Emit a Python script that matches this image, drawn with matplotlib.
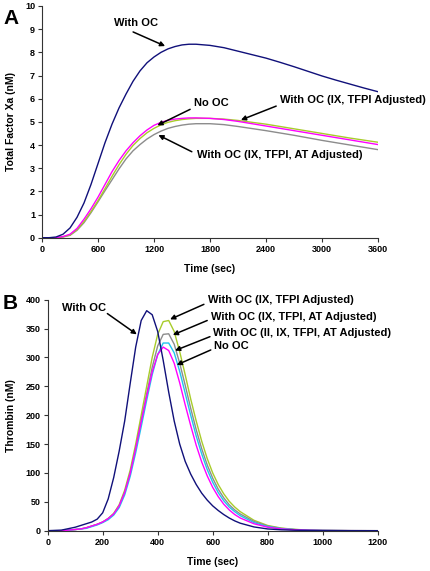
import matplotlib
matplotlib.use('Agg')
import matplotlib.pyplot as plt

plt.rcParams['font.family'] = ['Liberation Sans', 'DejaVu Sans']
plt.rcParams['font.weight'] = 'bold'

# ---- panel A : total factor Xa (nM) vs time (sec)
t_a = [0, 75, 150, 225, 300, 375, 450, 525, 600, 675, 750, 825, 900, 975, 1050, 1125,
       1200, 1275, 1350, 1425, 1500, 1575, 1650, 1800, 1950, 2100, 2250, 2400, 2550,
       2700, 2850, 3000, 3150, 3300, 3450, 3600]
xa_oc = [0, 0, 0.03, 0.15, 0.42, 0.88, 1.5, 2.3, 3.2, 4.1, 4.9, 5.6, 6.2, 6.75, 7.2, 7.55,
         7.8, 8.0, 8.15, 8.25, 8.32, 8.35, 8.35, 8.3, 8.2, 8.05, 7.9, 7.75, 7.57,
         7.38, 7.18, 6.98, 6.8, 6.63, 6.46, 6.3]
xa_no = [0, 0, 0, 0.05, 0.15, 0.4, 0.8, 1.25, 1.75, 2.3, 2.85, 3.33, 3.75, 4.1, 4.4, 4.65,
         4.85, 4.98, 5.07, 5.12, 5.15, 5.17, 5.17, 5.15, 5.1, 5.02, 4.92, 4.82, 4.72,
         4.62, 4.52, 4.42, 4.32, 4.22, 4.12, 4.02]
xa_ix_tfpi = [0, 0, 0, 0.04, 0.12, 0.35, 0.7, 1.13, 1.6, 2.12, 2.65, 3.15, 3.6, 3.98, 4.28,
              4.53, 4.72, 4.87, 4.98, 5.05, 5.1, 5.13, 5.15, 5.15, 5.12, 5.06, 4.98, 4.9,
              4.8, 4.7, 4.6, 4.5, 4.4, 4.3, 4.21, 4.12]
xa_ix_tfpi_at = [0, 0, 0, 0.03, 0.1, 0.32, 0.65, 1.08, 1.55, 2.03, 2.5, 2.97, 3.4, 3.75,
                 4.02, 4.26, 4.45, 4.6, 4.72, 4.8, 4.86, 4.9, 4.92, 4.92, 4.88, 4.8, 4.71,
                 4.62, 4.52, 4.42, 4.31, 4.2, 4.1, 4.0, 3.9, 3.8]

# ---- panel B : thrombin (nM) vs time (sec)
t_b = [0, 50, 100, 120, 140, 160, 180, 200, 220, 240, 260, 280, 300, 320, 340, 360, 380,
       400, 420, 440, 460, 480, 500, 520, 540, 560, 580, 600, 620, 640, 660, 680, 700,
       750, 800, 850, 900, 950, 1000, 1100, 1200]
th_oc = [0, 1, 6, 9, 12, 15, 20, 31, 55, 92, 138, 190, 255, 318, 364, 381, 374,
         345, 295, 240, 190, 150, 120, 98, 80, 65, 53, 43, 35, 28, 22, 17, 13,
         6.5, 3, 1.5, 0.8, 0.4, 0.2, 0, 0]
th_ix_tfpi = [0, 0, 2, 3, 5, 8, 11, 15, 21, 30, 45, 70, 105, 150, 200, 250, 300,
              340, 362, 364, 345, 310, 270, 228, 190, 155, 125, 100, 80, 64, 51, 41, 33,
              18, 9, 4.5, 2.2, 1, 0.5, 0.1, 0]
th_ix_tfpi_at = [0, 0, 2, 3, 5, 8, 11, 15, 21, 29, 43, 67, 100, 143, 190, 237, 283,
                 320, 340, 341, 323, 290, 252, 212, 175, 142, 114, 91, 72, 57, 45, 36, 29,
                 16, 8, 4, 2, 1, 0.5, 0.1, 0]
th_ii_ix_tfpi_at = [0, 0, 2, 3, 4, 7, 10, 14, 19, 27, 40, 62, 94, 135, 180, 226, 270,
                    305, 325, 325, 308, 276, 238, 200, 164, 133, 106, 84, 66, 52, 41, 33, 26,
                    14, 7, 3.5, 1.8, 0.8, 0.4, 0.1, 0]
th_no = [0, 0, 2, 3, 5, 8, 11, 15, 21, 29, 43, 66, 99, 142, 188, 233, 275,
         305, 318, 312, 290, 256, 218, 182, 148, 119, 95, 75, 59, 46, 36, 28, 22,
         12, 6, 3, 1.5, 0.7, 0.3, 0.1, 0]

navy = '#10107a'
magenta = '#ff00ff'
ygreen = '#a8cc2a'
gray = '#8c8c8c'
cyan = '#22c4ee'

fig = plt.figure(figsize=(4.3, 5.71), dpi=100)
axA = fig.add_axes([0.0977, 0.5837, 0.7814, 0.4058])
axB = fig.add_axes([0.1109, 0.0706, 0.7675, 0.4045])

lw = 1.0
axA.plot(t_a, xa_ix_tfpi_at, color=gray, lw=lw)
axA.plot(t_a, xa_ix_tfpi, color=ygreen, lw=lw)
axA.plot(t_a, xa_no, color=magenta, lw=lw)
axA.plot(t_a, xa_oc, color=navy, lw=lw)

axB.plot(t_b, th_ix_tfpi, color=ygreen, lw=lw)
axB.plot(t_b, th_ix_tfpi_at, color=gray, lw=lw)
axB.plot(t_b, th_ii_ix_tfpi_at, color=cyan, lw=lw)
axB.plot(t_b, th_no, color=magenta, lw=lw)
axB.plot(t_b, th_oc, color=navy, lw=lw)

for ax in (axA, axB):
    for s in ('top', 'right'):
        ax.spines[s].set_visible(False)
    for s in ('left', 'bottom'):
        ax.spines[s].set_linewidth(0.8)
        ax.spines[s].set_color('#333333')
    ax.tick_params(direction='out', length=3, width=0.8, labelsize=6.5, pad=2,
                   color='#333333')

axA.set_xlim(0, 3600)
axA.set_ylim(0, 10)
axA.set_xticks(range(0, 3601, 600))
axA.set_yticks(range(0, 11))
axA.set_xlabel('Time (sec)', fontsize=7.5, fontweight='bold')
axA.set_ylabel('Total Factor Xa (nM)', fontsize=7.5, fontweight='bold')
axA.xaxis.set_label_coords(0.5, -0.113)
axA.yaxis.set_label_coords(-0.077, 0.5)

axB.set_xlim(0, 1200)
axB.set_ylim(0, 400)
axB.set_xticks(range(0, 1201, 200))
axB.set_yticks(range(0, 401, 50))
axB.set_xlabel('Time (sec)', fontsize=7.5, fontweight='bold')
axB.set_ylabel('Thrombin (nM)', fontsize=7.5, fontweight='bold')
axB.xaxis.set_label_coords(0.5, -0.114)
axB.yaxis.set_label_coords(-0.096, 0.5)

for ax in (axA, axB):
    for lab in ax.get_xticklabels() + ax.get_yticklabels():
        lab.set_fontweight('bold')

arrow = dict(arrowstyle='-|>', color='black', lw=1.1, mutation_scale=7,
             shrinkA=0, shrinkB=0)
tfs = 8


def label(ax, text, xy, xytext, textpos, ha='left'):
    ax.annotate('', xy=xy, xytext=xytext, arrowprops=arrow)
    ax.text(textpos[0], textpos[1], text, fontsize=tfs, fontweight='bold',
            ha=ha, va='center', clip_on=False)


# panel A labels
label(axA, 'With OC', (1319, 8.27), (976, 8.88), (1010, 9.25), ha='center')
label(axA, 'No OC', (1236, 4.85), (1587, 5.54), (1815, 5.8), ha='center')
label(axA, 'With OC (IX, TFPI Adjusted)', (2131, 5.08), (2509, 5.68), (2545, 5.93))
label(axA, 'With OC (IX, TFPI, AT Adjusted)', (1247, 4.43), (1605, 3.71), (1665, 3.55))

# panel B labels
label(axB, 'With OC', (324, 340), (217, 376), (132, 385), ha='center')
label(axB, 'With OC (IX, TFPI Adjusted)', (445, 366), (568, 392), (582, 399))
label(axB, 'With OC (IX, TFPI, AT Adjusted)', (455, 339), (580, 364), (595, 370))
label(axB, 'With OC (II, IX, TFPI, AT Adjusted)', (463, 312), (590, 336), (602, 343))
label(axB, 'No OC', (469, 287), (593, 313), (604, 320))

fig.text(0.007, 0.984, 'A', fontsize=15, fontweight='bold', va='top', ha='left')
fig.text(0.007, 0.485, 'B', fontsize=15, fontweight='bold', va='top', ha='left')

fig.savefig('out.png', dpi=100)
